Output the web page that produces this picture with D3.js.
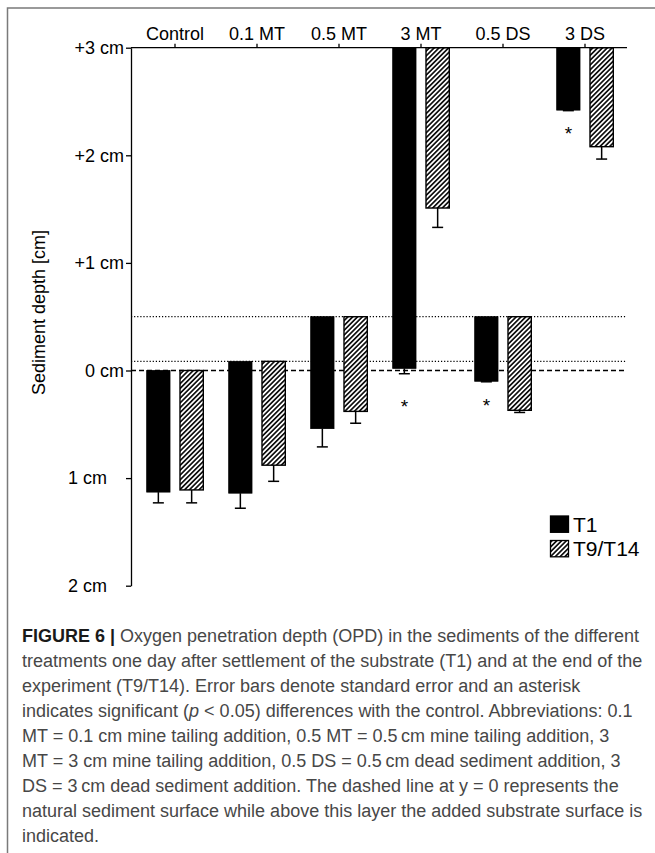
<!DOCTYPE html>
<html><head><meta charset="utf-8">
<script src="https://cdn.jsdelivr.net/npm/d3@7"></script>
<style>body{margin:0;background:#fff}svg{display:block}</style>
</head><body><svg id="c" width="655" height="853"></svg>
<script>
// ---------- data ----------
const categories = ["Control", "0.1 MT", "0.5 MT", "3 MT", "0.5 DS", "3 DS"];
const series = ["T1", "T9/T14"];
// top of each bar = substrate surface (cm above natural sediment)
const surface = [0, 0.085, 0.5, 3, 0.5, 3];
// oxygen penetration level reached (cm, + above / - below natural surface)
const t1Values = [-1.13, -1.14, -0.54, 0.02, -0.10, 2.42];
const t1Errors = [0.10, 0.14, 0.17, 0.05, 0.005, 0.005];
const t9Values = [-1.11, -0.88, -0.38, 1.51, -0.37, 2.08];
const t9Errors = [0.12, 0.15, 0.11, 0.18, 0.02, 0.115];
// asterisk level (cm) for significant T1 differences
const sigLevels = [null, null, null, -0.29, -0.28, 2.24];
const dottedLevels = [0.5, 0.085];
const dashedLevel = 0;
const yTicks = [3, 2, 1, 0, -1, -2];
const yTickLabels = ["+3 cm", "+2 cm", "+1 cm", "0 cm", "1 cm", "2 cm"];
const yTitle = "Sediment depth [cm]";
const captionLines = [
  [{t: "FIGURE 6 | ", b: true}, {t: "Oxygen penetration depth (OPD) in the sediments of the different"}],
  [{t: "treatments one day after settlement of the substrate (T1) and at the end of the"}],
  [{t: "experiment (T9/T14). Error bars denote standard error and an asterisk"}],
  [{t: "indicates significant ("}, {t: "p", i: true}, {t: " < 0.05) differences with the control. Abbreviations: 0.1"}],
  [{t: "MT = 0.1 cm mine tailing addition, 0.5 MT = 0.5\u2009cm mine tailing addition, 3"}],
  [{t: "MT = 3 cm mine tailing addition, 0.5 DS = 0.5\u2009cm dead sediment addition, 3"}],
  [{t: "DS = 3\u2009cm dead sediment addition. The dashed line at y = 0 represents the"}],
  [{t: "natural sediment surface while above this layer the added substrate surface is"}],
  [{t: "indicated."}]
];

// ---------- layout ----------
const FONT = "'Liberation Sans', Arial, Helvetica, sans-serif";
const svg = d3.select("#c");
const plotL = 131, plotR = 627;
const y = d3.scaleLinear().domain([3, -2]).range([47.7, 585.7]);
const x = d3.scaleBand().domain(categories).range([134, 626]);
const sub = d3.scaleBand().domain(series).range([-28.3, 28.3]).paddingInner(0.3);
const bw = sub.bandwidth();

// frame
svg.append("path").attr("d", "M7.5,853V8H655").attr("fill", "none")
  .attr("stroke", "#7a7a7a").attr("stroke-width", 1.5);

// hatch pattern
const defs = svg.append("defs");
const pat = defs.append("pattern").attr("id", "hatch").attr("patternUnits", "userSpaceOnUse")
  .attr("width", 3.4).attr("height", 10).attr("patternTransform", "rotate(45)");
pat.append("rect").attr("width", 3.4).attr("height", 10).attr("fill", "#fff");
pat.append("rect").attr("width", 1.7).attr("height", 10).attr("fill", "#111");

// reference lines
svg.append("g").selectAll("line").data(dottedLevels).join("line")
  .attr("x1", plotL).attr("x2", plotR).attr("y1", d => y(d)).attr("y2", d => y(d))
  .attr("stroke", "#000").attr("stroke-width", 1.2).attr("stroke-dasharray", "1.2,1.9");
svg.append("line").attr("x1", plotL).attr("x2", plotR)
  .attr("y1", y(dashedLevel)).attr("y2", y(dashedLevel))
  .attr("stroke", "#000").attr("stroke-width", 1.5).attr("stroke-dasharray", "5,3");

// bars
const rows = [];
categories.forEach((c, i) => {
  rows.push({c, s: "T1", top: surface[i], v: t1Values[i], e: t1Errors[i]});
  rows.push({c, s: "T9/T14", top: surface[i], v: t9Values[i], e: t9Errors[i]});
});
const bx = d => x(d.c) + x.bandwidth() / 2 + sub(d.s);
const gBars = svg.append("g");
gBars.selectAll("rect").data(rows).join("rect")
  .attr("x", d => bx(d)).attr("width", bw)
  .attr("y", d => y(Math.max(d.top, d.v)))
  .attr("height", d => Math.abs(y(d.top) - y(d.v)))
  .attr("fill", d => d.s === "T1" ? "#000" : "url(#hatch)")
  .attr("stroke", "#000").attr("stroke-width", d => d.s === "T1" ? 0.8 : 1.4);

// error bars (pointing away from bar top, i.e. downward)
const gErr = svg.append("g").attr("stroke", "#000").attr("stroke-width", 1.5);
gErr.selectAll("line.v").data(rows).join("line").attr("class", "v")
  .attr("x1", d => bx(d) + bw / 2).attr("x2", d => bx(d) + bw / 2)
  .attr("y1", d => y(d.v)).attr("y2", d => y(d.v - d.e));
gErr.selectAll("line.c").data(rows).join("line").attr("class", "c")
  .attr("x1", d => bx(d) + bw / 2 - 5.5).attr("x2", d => bx(d) + bw / 2 + 5.5)
  .attr("y1", d => y(d.v - d.e)).attr("y2", d => y(d.v - d.e));

// asterisks
svg.append("g").selectAll("text").data(categories.map((c, i) => ({c, l: sigLevels[i]})).filter(d => d.l !== null))
  .join("text")
  .attr("x", d => x(d.c) + x.bandwidth() / 2 + sub("T1") + bw / 2)
  .attr("y", d => y(d.l) + 11)
  .attr("text-anchor", "middle").attr("font-family", FONT).attr("font-size", 19).text("*");

// y axis
const yAxis = svg.append("g").attr("transform", `translate(${plotL},0)`)
  .call(d3.axisLeft(y).tickValues(yTicks).tickFormat((d, i) => yTickLabels[i])
    .tickSize(5).tickSizeOuter(0).tickPadding(2));
yAxis.selectAll("path,line").attr("stroke", "#000").attr("stroke-width", 1.3);
yAxis.selectAll("text").attr("font-family", FONT).attr("font-size", 18).attr("fill", "#000")
  .attr("dx", d => d < 0 ? -17 : 0);

// x axis (top)
const xAxis = svg.append("g").attr("transform", `translate(0,${y(3)})`)
  .call(d3.axisTop(x).tickSize(4).tickSizeOuter(0).tickPadding(3.7));
xAxis.select(".domain").remove();
xAxis.selectAll("line").attr("stroke", "#000").attr("stroke-width", 1.3);
xAxis.selectAll("text").attr("font-family", FONT).attr("font-size", 18).attr("fill", "#000");
svg.append("line").attr("x1", plotL).attr("x2", plotR).attr("y1", y(3)).attr("y2", y(3))
  .attr("stroke", "#000").attr("stroke-width", 1.3);

// y title
svg.append("text").attr("transform", "translate(45,312.5) rotate(-90)")
  .attr("text-anchor", "middle").attr("font-family", FONT).attr("font-size", 18).text(yTitle);

// legend
const leg = svg.append("g");
series.forEach((s, i) => {
  leg.append("rect").attr("x", 550.5).attr("y", 516 + i * 24.5).attr("width", 18).attr("height", 16.3)
    .attr("fill", i === 0 ? "#000" : "url(#hatch)").attr("stroke", "#000").attr("stroke-width", 1.3);
  leg.append("text").attr("x", 573).attr("y", 531.7 + i * 24.5)
    .attr("font-family", FONT).attr("font-size", 21).text(s);
});

// caption
const cap = svg.append("g").attr("font-family", FONT).attr("fill", "#474747");
const lineEls = captionLines.map((segs, i) => {
  const t = cap.append("text").attr("x", 22).attr("y", 641.7 + i * 25).attr("font-size", 16);
  segs.forEach(sg => {
    t.append("tspan").text(sg.t)
      .attr("font-weight", sg.b ? "bold" : null)
      .attr("fill", sg.b ? "#1a1a1a" : null)
      .attr("font-style", sg.i ? "italic" : null);
  });
  return t;
});
const w2 = lineEls[1].node().getComputedTextLength();
const fs = 16 * 621 / w2;
lineEls.forEach(t => t.attr("font-size", fs));
</script>
</body></html>
